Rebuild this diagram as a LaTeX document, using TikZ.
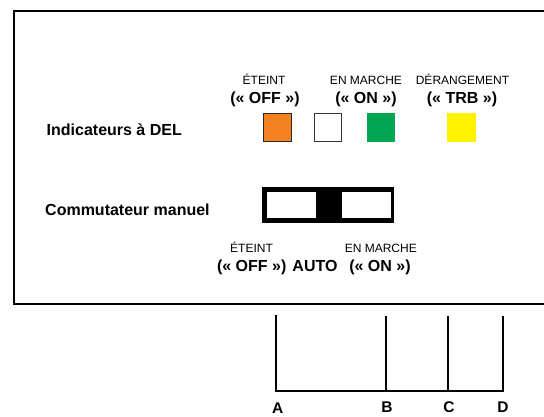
\documentclass[tikz,border=0pt]{standalone}
\usepackage{fontspec}
\setmainfont{Liberation Sans}
\usetikzlibrary{
	positioning				% relative placement
	, calc
}
\definecolor{ledorange}{HTML}{F58220}
\definecolor{ledgreen}{HTML}{00A651}
\definecolor{ledyellow}{HTML}{FFF200}

\begin{document}
\begin{tikzpicture}[x=1pt, y=-1pt
		, boldlabel/.style={font=\fontsize{16}{18}\selectfont\bfseries, inner sep=0pt, anchor=base}
		, statelabel/.style={font=\fontsize{12}{14}\selectfont, inner sep=0pt, anchor=base}
		, termlabel/.style={font=\fontsize{15.5}{18}\selectfont\bfseries, inner sep=0pt, anchor=base}
		, led/.style={rectangle, minimum size=27.5pt, inner sep=0pt, line width=0.8pt}
		, switchbody/.style={rectangle, fill=black, minimum width=132pt, minimum height=35.5pt, inner sep=0pt}
		, switchpad/.style={rectangle, fill=white, minimum width=49.3pt, minimum height=26pt, inner sep=0pt}
		, wire/.style={line width=2pt, line cap=rect}
		, panelframe/.style={line width=2.4pt}]

		\useasboundingbox (0,0) rectangle (544,416);

		%%% Panel border (runs off the right side)
		\draw[panelframe] (544,11) -- (14,11) -- (14,304) -- (544,304);

		%%% LED indicators
		\node[boldlabel, anchor=base west] (ledcaption) at (46.5,135.7) {Indicateurs à DEL};

		%% State labels above the LEDs
		\node[statelabel] (offstate) at (264,84.5) {ÉTEINT};
		\node[boldlabel] (offtag) at (265,103) {(« OFF »)};
		\node[statelabel] (onstate) at (366,84.5) {EN MARCHE};
		\node[boldlabel] (ontag) at (366,103) {(« ON »)};
		\node[statelabel] (trbstate) at (462.5,84.5) {DÉRANGEMENT};
		\node[boldlabel] (trbtag) at (462,103) {(« TRB »)};

		%% The four LEDs
		\foreach \ledname/\ledx/\ledcolor/\ledborder in {offled/277.5/ledorange/black!85, blankled/328/white/black!80, onled/381/ledgreen/ledgreen, trbled/461.5/ledyellow/ledyellow} {
			\node[led, fill=\ledcolor, draw=\ledborder] (\ledname) at (\ledx,127.3) {};
		};

		%%% Manual switch
		\node[boldlabel, anchor=base west] (switchcaption) at (45,215) {Commutateur manuel};
		\node[switchbody] (switch) at (328,205) {};
		\node[switchpad] (offpad) at (291.3,205.3) {};
		\node[switchpad] (onpad) at (366.3,205.3) {};

		%% Switch positions
		\node[statelabel] (swoffstate) at (251.5,252) {ÉTEINT};
		\node[boldlabel] (swofftag) at (251.7,271) {(« OFF »)};
		\node[boldlabel] (swauto) at (315,271) {AUTO};
		\node[statelabel] (swonstate) at (380.8,252) {EN MARCHE};
		\node[boldlabel] (swontag) at (380,271) {(« ON »)};

		%%% Terminal wiring
		\foreach \term/\termx/\termtop in {A/276/316, B/386/317, C/448.3/317, D/502.7/317} {
			\coordinate (\term-top) at (\termx,\termtop);
			\coordinate (\term-bot) at (\termx,390.7);
		};
		\node[termlabel] (labelA) at (277.7,413.6) {A};
		\node[termlabel] (labelB) at (387,412.7) {B};
		\node[termlabel] (labelC) at (449,412.7) {C};
		\node[termlabel] (labelD) at (503,412.7) {D};

		\draw[wire] (A-top) -- (A-bot) -- (D-bot) -- (D-top);
		\draw[wire] (B-top) -- (B-bot);
		\draw[wire] (C-top) -- (C-bot);
\end{tikzpicture}
\end{document}
